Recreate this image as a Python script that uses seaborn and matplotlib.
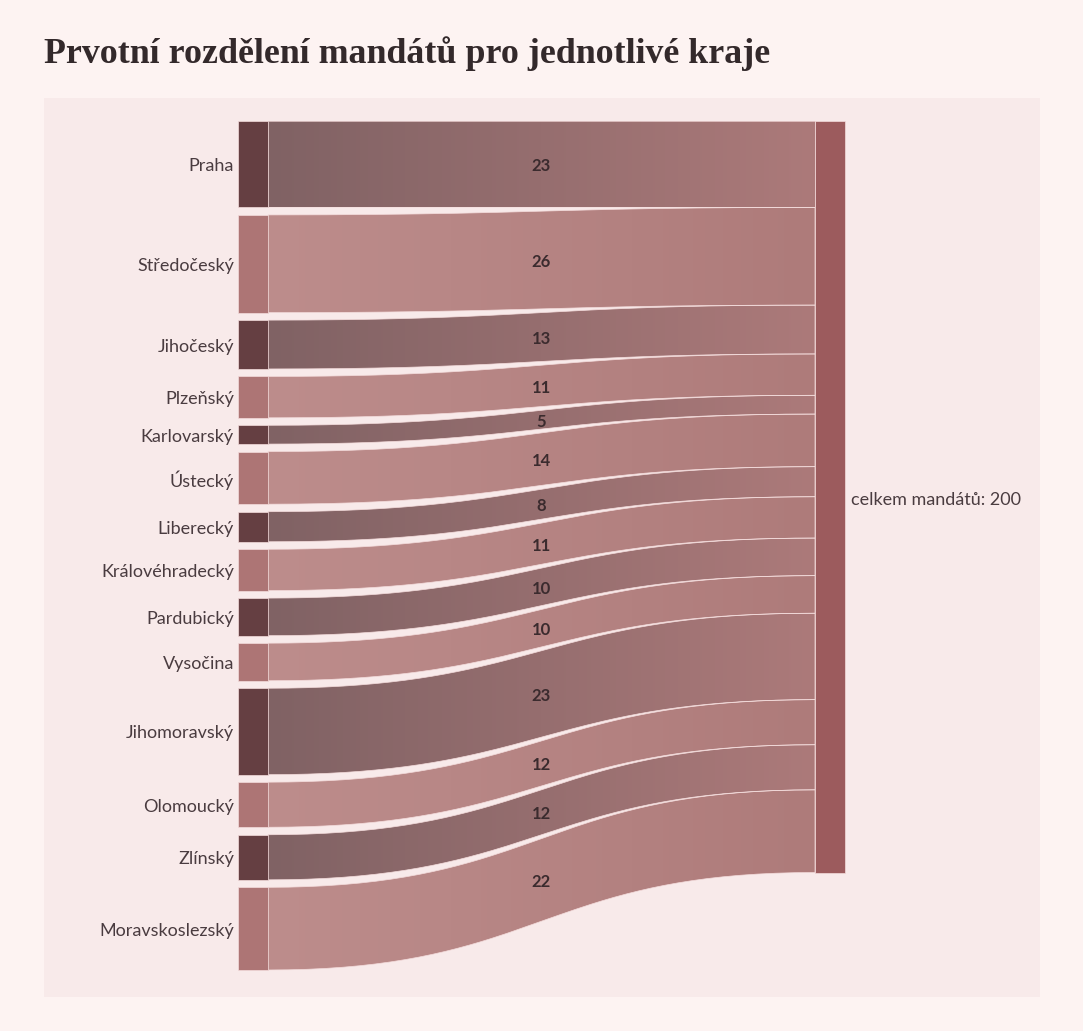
import numpy as np
import matplotlib
matplotlib.use("Agg")
import matplotlib.pyplot as plt
import seaborn as sns
from matplotlib.path import Path
from matplotlib.patches import PathPatch, Rectangle

# data
regions = ["Praha", "Středočeský", "Jihočeský", "Plzeňský", "Karlovarský", "Ústecký",
           "Liberecký", "Královéhradecký", "Pardubický", "Vysočina", "Jihomoravský",
           "Olomoucký", "Zlínský", "Moravskoslezský"]
seats = [23, 26, 13, 11, 5, 14, 8, 11, 10, 10, 23, 12, 12, 22]
target_label = "celkem mandátů"
title = "Prvotní rozdělení mandátů pro jednotlivé kraje"

# style
sns.set_theme(style="white")
plt.rcParams["font.family"] = ["Lato", "DejaVu Sans"]
FIG_BG = "#fdf3f2"
PANEL_BG = "#f8eaea"
NODE_DARK = "#653f42"
NODE_LIGHT = "#ad7575"
NODE_TARGET = "#9c5b5d"
LINK_DARK = sns.blend_palette(["#806264", "#ac7a7a"], 256)
LINK_LIGHT = sns.blend_palette(["#bd8d8c", "#ae7b7a"], 256)
TEXT = "#4a3c40"
EDGE = "#f4dcdc"

W, H = 1083, 1031
fig = plt.figure(figsize=(W / 100, H / 100), dpi=100, facecolor=FIG_BG)
ax = fig.add_axes([0, 0, 1, 1])
ax.set_xlim(0, W)
ax.set_ylim(H, 0)
ax.axis("off")

# layout (pixel space)
panel = (44, 98, 1040, 997)
top, bottom = 121, 970
node_w = 30
x_src, x_tgt = 238, 815
gap = 7.5
total = sum(seats)
scale = (bottom - top - gap * (len(seats) - 1)) / total

ax.add_patch(Rectangle((panel[0], panel[1]), panel[2] - panel[0], panel[3] - panel[1],
                       facecolor=PANEL_BG, edgecolor="none", zorder=0))

def bez(p0, p1, p2, p3, n=80):
    t = np.linspace(0, 1, n)[:, None]
    return ((1 - t) ** 3) * p0 + 3 * ((1 - t) ** 2) * t * p1 + 3 * (1 - t) * t ** 2 * p2 + t ** 3 * p3

y_s = top
y_t = top
x0 = x_src + node_w
x1 = x_tgt
xm = (x0 + x1) / 2
for i, (name, v) in enumerate(zip(regions, seats)):
    h = v * scale
    dark = i % 2 == 0
    # source node
    ax.add_patch(Rectangle((x_src, y_s), node_w, h, facecolor=NODE_DARK if dark else NODE_LIGHT,
                           edgecolor=EDGE, lw=0.5, zorder=3))
    ax.text(x_src - 4, y_s + h / 2 + 2, name, ha="right", va="center", fontsize=13, color=TEXT, zorder=5)

    # link ribbon
    top_c = bez(np.array([x0, y_s]), np.array([xm, y_s]), np.array([xm, y_t]), np.array([x1, y_t]))
    bot_c = bez(np.array([x1, y_t + h]), np.array([xm, y_t + h]), np.array([xm, y_s + h]), np.array([x0, y_s + h]))
    verts = np.vstack([top_c, bot_c, top_c[:1]])
    path = Path(verts)
    patch = PathPatch(path, facecolor="none", edgecolor=EDGE, lw=0.5, zorder=2)
    ax.add_patch(patch)
    cols = np.array(LINK_DARK if dark else LINK_LIGHT)[None, :, :]
    ymin = min(y_s, y_t) - 1
    ymax = max(y_s, y_t) + h + 1
    im = ax.imshow(cols, extent=[x0, x1, ymax, ymin], aspect="auto", interpolation="bilinear", zorder=1)
    im.set_clip_path(PathPatch(path, transform=ax.transData))

    # link value label
    ym = (y_s + y_t + h) / 2
    ax.text(xm, ym + 2, str(v), ha="center", va="center", fontsize=12, fontweight="bold",
            color="#3b2b2e", zorder=5)

    y_s += h + gap
    y_t += h

# target node
ax.add_patch(Rectangle((x_tgt, top), node_w, total * scale, facecolor=NODE_TARGET,
                       edgecolor=EDGE, lw=0.5, zorder=3))
ax.text(x_tgt + node_w + 6, top + total * scale / 2 + 3, f"{target_label}: {total}",
        ha="left", va="center", fontsize=13, color=TEXT, zorder=5)

ax.text(44, 63, title, ha="left", va="baseline", fontsize=25.8, fontweight="bold",
        family=["Liberation Serif", "DejaVu Serif"], color="#33292b")

fig.savefig("out.png", dpi=100, facecolor=FIG_BG)
